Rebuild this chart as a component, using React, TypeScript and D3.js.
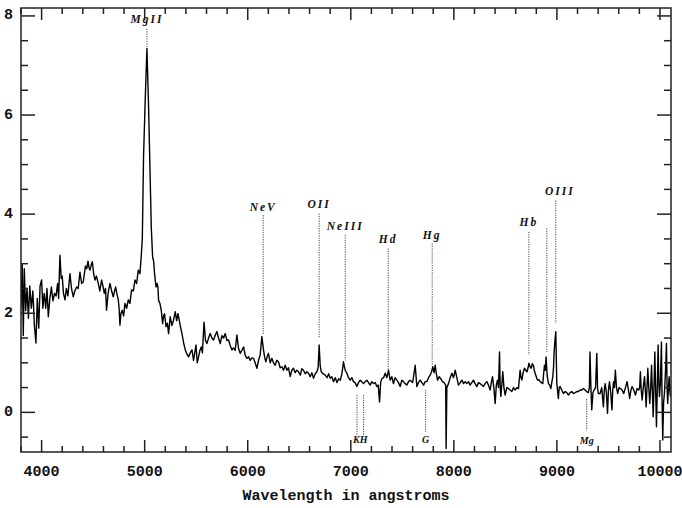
import React from "react";
import * as d3 from "d3";

const wavelengths = [
  3800, 3812, 3822, 3832, 3845, 3858, 3872, 3885, 3900, 3915, 3930, 3945, 3958, 3972, 3985,
  4000, 4012, 4025, 4040, 4052, 4065, 4080, 4095, 4110, 4125, 4140, 4155, 4165, 4178, 4190,
  4200, 4212, 4227, 4240, 4255, 4275, 4290, 4307, 4322, 4340, 4355, 4372, 4388, 4404, 4415,
  4425, 4438, 4450, 4460, 4470, 4482, 4492, 4505, 4518, 4532, 4550, 4565, 4582, 4595, 4608,
  4620, 4630, 4645, 4663, 4680, 4695, 4708, 4718, 4730, 4744, 4752, 4760, 4770, 4783, 4796,
  4809, 4825, 4841, 4857, 4873, 4890, 4906, 4922, 4938, 4954, 4965, 4977, 4989, 5006, 5022,
  5038, 5054, 5064, 5077, 5087, 5096, 5110, 5120, 5129, 5135, 5148, 5161, 5174, 5184, 5193,
  5207, 5220, 5232, 5248, 5264, 5280, 5297, 5310, 5323, 5339, 5350, 5362, 5378, 5394, 5410,
  5426, 5442, 5459, 5474, 5486, 5498, 5510, 5523, 5536, 5549, 5560, 5576, 5590, 5604, 5620,
  5636, 5652, 5668, 5684, 5701, 5717, 5733, 5750, 5766, 5782, 5798, 5814, 5830, 5847, 5862,
  5878, 5895, 5910, 5927, 5943, 5960, 5976, 5992, 6008, 6024, 6040, 6056, 6072, 6089, 6105,
  6121, 6137, 6153, 6165, 6176, 6188, 6201, 6218, 6234, 6250, 6266, 6282, 6298, 6315, 6331,
  6347, 6363, 6380, 6396, 6412, 6428, 6444, 6460, 6476, 6493, 6510, 6525, 6541, 6558, 6574,
  6590, 6606, 6622, 6638, 6655, 6671, 6683, 6693, 6703, 6713, 6730, 6752, 6770, 6785, 6800,
  6815, 6833, 6850, 6866, 6882, 6898, 6914, 6929, 6945, 6962, 6978, 6994, 7010, 7026, 7042,
  7059, 7075, 7091, 7107, 7123, 7140, 7156, 7172, 7188, 7204, 7220, 7237, 7253, 7266, 7279,
  7290, 7301, 7318, 7334, 7350, 7366, 7382, 7398, 7414, 7430, 7447, 7463, 7479, 7495, 7511,
  7527, 7544, 7560, 7576, 7600, 7625, 7641, 7657, 7673, 7690, 7706, 7722, 7738, 7754, 7770,
  7784, 7796, 7808, 7819, 7830, 7842, 7857, 7873, 7890, 7905, 7921, 7925, 7932, 7948, 7965,
  7981, 7997, 8013, 8029, 8045, 8062, 8078, 8095, 8110, 8126, 8142, 8158, 8174, 8190, 8206,
  8223, 8239, 8255, 8271, 8287, 8303, 8320, 8336, 8352, 8364, 8375, 8388, 8401, 8412, 8423,
  8433, 8443, 8450, 8456, 8465, 8475, 8486, 8498, 8514, 8530, 8546, 8563, 8579, 8595, 8611,
  8627, 8643, 8652, 8660, 8672, 8685, 8698, 8710, 8720, 8728, 8740, 8750, 8762, 8772, 8780,
  8789, 8800, 8811, 8825, 8837, 8850, 8863, 8872, 8879, 8887, 8895, 8905, 8918, 8930, 8941,
  8950, 8960, 8967, 8973, 8981, 8989, 8995, 8999, 9006, 9014, 9022, 9031, 9047, 9063, 9080,
  9096, 9112, 9128, 9144, 9160, 9177, 9193, 9209, 9225, 9241, 9257, 9273, 9289, 9305, 9315,
  9321, 9330, 9338, 9350, 9361, 9375, 9387, 9394, 9402, 9419, 9435, 9451, 9460, 9468, 9480,
  9491, 9500, 9510, 9522, 9534, 9542, 9550, 9558, 9567, 9578, 9590, 9603, 9616, 9632, 9648,
  9665, 9681, 9694, 9706, 9718, 9730, 9746, 9762, 9778, 9794, 9803, 9810, 9818, 9827, 9838,
  9850, 9858, 9866, 9874, 9882, 9891, 9901, 9910, 9918, 9926, 9934, 9942, 9950, 9958, 9966,
  9974, 9982, 9989, 9995, 10004, 10014, 10020, 10027, 10035, 10043, 10053, 10063, 10069, 10075, 10082,
  10089, 10095, 10102,
];

// Flux at each wavelength sample
const flux = [
  2.1, 3.0, 1.55, 2.9, 2.05, 2.5, 1.9, 2.55, 2.1, 2.45, 1.75, 1.4, 2.3, 1.7, 2.55,
  2.67, 2.1, 2.4, 2.1, 2.5, 1.93, 2.3, 2.53, 2.25, 2.4, 2.35, 2.6, 2.3, 3.17, 2.7,
  2.75, 2.4, 2.27, 2.5, 2.35, 2.8, 2.5, 2.33, 2.45, 2.53, 2.5, 2.83, 2.6, 2.63, 2.8,
  2.95, 2.9, 3.05, 2.92, 2.87, 2.98, 3.04, 2.8, 2.67, 2.75, 2.6, 2.45, 2.67, 2.55, 2.4,
  2.5, 2.06, 2.4, 2.6, 2.45, 2.33, 2.45, 2.53, 2.4, 2.27, 2.1, 1.76, 2.0, 2.06, 1.95,
  2.2, 2.1, 2.27, 2.2, 2.47, 2.45, 2.67, 2.6, 2.87, 2.8, 3.1, 3.5, 5.15, 6.36, 7.34,
  6.16, 4.68, 3.74, 3.14, 3.05, 2.8, 2.53, 2.6, 2.52, 2.26, 2.2, 2.06, 1.79, 1.95, 1.99,
  1.73, 1.8, 1.59, 1.93, 1.75, 1.86, 2.03, 1.85, 1.99, 1.82, 1.7, 1.59, 1.4, 1.26, 1.18,
  1.12, 1.2, 1.26, 1.05, 1.2, 1.36, 1.0, 1.12, 1.25, 1.32, 1.2, 1.82, 1.45, 1.39, 1.5,
  1.59, 1.5, 1.46, 1.55, 1.63, 1.5, 1.39, 1.55, 1.5, 1.59, 1.45, 1.46, 1.35, 1.26, 1.3,
  1.25, 1.56, 1.3, 1.19, 1.25, 1.32, 1.15, 1.09, 1.12, 1.05, 1.1, 1.09, 1.0, 0.89, 1.05,
  1.16, 1.53, 1.26, 1.1, 1.02, 1.12, 1.19, 1.0, 1.09, 1.0, 0.95, 1.05, 1.02, 0.9, 0.92,
  0.85, 0.95, 0.85, 0.9, 0.72, 0.85, 0.89, 0.8, 0.85, 0.82, 0.75, 0.88, 0.85, 0.78, 0.82,
  0.79, 0.72, 0.8, 0.69, 0.78, 0.82, 0.9, 1.36, 0.95, 0.82, 0.78, 0.75, 0.7, 0.78, 0.69,
  0.72, 0.62, 0.7, 0.6, 0.68, 0.65, 0.78, 1.02, 0.85, 0.79, 0.7, 0.65, 0.7, 0.62, 0.6,
  0.52, 0.6, 0.65, 0.62, 0.58, 0.62, 0.65, 0.6, 0.55, 0.62, 0.58, 0.6, 0.52, 0.55, 0.21,
  0.6, 0.68, 0.7, 0.79, 0.7, 0.85, 0.65, 0.72, 0.58, 0.7, 0.65, 0.6, 0.52, 0.65, 0.62,
  0.58, 0.55, 0.62, 0.65, 0.6, 0.95, 0.52, 0.6, 0.65, 0.6, 0.55, 0.62, 0.62, 0.7, 0.75,
  0.82, 0.92, 0.8, 0.95, 0.78, 0.65, 0.72, 0.68, 0.62, 0.6, 0.55, -0.73, 0.5, 0.58, 0.7,
  0.79, 0.7, 0.85, 0.7, 0.55, 0.6, 0.65, 0.58, 0.62, 0.58, 0.62, 0.55, 0.6, 0.65, 0.58,
  0.52, 0.6, 0.58, 0.55, 0.52, 0.58, 0.62, 0.55, 0.45, 0.6, 0.72, 0.5, 0.18, 0.55, 0.65,
  0.5, 1.22, 0.5, 0.32, 0.55, 0.82, 0.5, 0.35, 0.5, 0.48, 0.45, 0.42, 0.5, 0.45, 0.5,
  0.48, 0.85, 0.7, 0.65, 0.8, 0.89, 0.85, 0.82, 0.9, 0.99, 0.92, 0.89, 0.98, 0.95, 0.85,
  0.79, 0.72, 0.65, 0.66, 0.62, 0.6, 0.58, 0.8, 0.95, 0.85, 1.12, 0.75, 0.58, 0.55, 0.48,
  0.6, 0.72, 0.9, 1.22, 1.45, 1.63, 1.0, 0.58, 0.45, 0.28, 0.5, 0.52, 0.45, 0.38, 0.42,
  0.4, 0.35, 0.4, 0.42, 0.38, 0.4, 0.42, 0.42, 0.45, 0.45, 0.48, 0.45, 0.42, 0.4, 0.5,
  1.22, 0.5, 0.05, 0.4, 0.45, 0.5, 1.19, 0.5, 0.38, 0.38, 0.5, 0.11, 0.45, 0.58, 0.4,
  -0.02, 0.45, 0.62, 0.4, 0.05, 0.45, 0.62, 0.5, 0.85, 0.5, 0.38, 0.5, 0.48, 0.45, 0.38,
  0.5, 0.62, 0.45, 0.28, 0.45, 0.52, 0.45, 0.35, 0.48, 0.45, 0.5, 0.82, 0.45, 0.25, 0.5,
  0.72, 0.45, 0.11, 0.5, 0.89, 0.5, 0.18, 0.5, 0.95, 0.45, -0.09, 0.5, 1.22, 0.45, -0.29,
  0.5, 1.36, 0.6, 0.32, 0.6, 1.42, 0.3, -0.56, 0.2, 0.38, 0.8, 1.39, 0.5, 0.18, 0.5,
  0.72, 0.45, 0.32,
];

// Emission / absorption line markers
const lineNames = ["MgII", "NeV", "OII", "NeIII", "Hd", "Hg", "Hb", "OIII", "KH", "G", "Mg"];
const lineWavelengths = [[5022], [6150], [6693], [6946], [7363], [7790], [8728], [8902, 8989], [7060, 7124], [7726], [9289]];
const lineLabelFlux = [7.86, 4.06, 4.12, 3.68, 3.41, 3.49, 3.76, 4.38, -0.61, -0.61, -0.63];
const lineTopFlux = [[7.74], [3.98], [4.01], [3.58], [3.31], [3.41], [3.64], [3.71, 4.28], [0.35, 0.35], [0.45], [0.27]];
const lineEndFlux = [[7.34], [1.56], [1.5], [1.05], [0.85], [0.95], [1.16], [1.22, 1.8], [-0.46, -0.46], [-0.39], [-0.37]];
const lineBelow = [false, false, false, false, false, false, false, false, true, true, true];

const xMajorTicks = [4000, 5000, 6000, 7000, 8000, 9000, 10000];
const yMajorTicks = [0, 2, 4, 6, 8];
const xLabel = "Wavelength in angstroms";

export default function App() {
  const W = 682, H = 508;
  const left = 21, right = 671, top = 8, bottom = 452;
  const x = d3.scaleLinear().domain([3800, 10107]).range([left, right]);
  const y = d3.scaleLinear().domain([-0.8, 8.16]).range([bottom, top]);
  const xMinor = d3.range(3800, 10101, 200).filter((v) => v % 1000 !== 0);
  const yMinor = d3.range(-0.5, 8.01, 0.5).filter((v) => v % 2 !== 0);

  const pts = wavelengths.map((w, i) => [w, flux[i]] as [number, number]);
  const line = d3.line<[number, number]>().x((d) => x(d[0])).y((d) => y(d[1]));

  const monoFont = "'Liberation Mono', 'DejaVu Sans Mono', monospace";
  const serifFont = "'Liberation Serif', 'DejaVu Serif', serif";
  const axisColor = "#222";

  return (
    <svg width={W} height={H} style={{ position: "absolute", left: 0, top: 0, background: "#fff" }}>
      <rect x={0} y={0} width={W} height={H} fill="#fff" />
      <defs>
        <clipPath id="plotclip">
          <rect x={left} y={top} width={right - left} height={bottom - top} />
        </clipPath>
      </defs>
      {/* line markers */}
      <g stroke="#444" strokeWidth={1} strokeDasharray="1.2,1.2" fill="none">
        {lineNames.map((n, i) =>
          lineWavelengths[i].map((w, j) => (
            <line key={n + j} x1={x(w)} x2={x(w)} y1={y(lineTopFlux[i][j])} y2={y(lineEndFlux[i][j])} />
          ))
        )}
      </g>
      <g fontFamily={serifFont} fontStyle="italic" fontWeight="bold" fill="#111" textAnchor="middle">
        {lineNames.map((n, i) => {
          const cx = d3.mean(lineWavelengths[i]) as number;
          const below = lineBelow[i];
          const labelX = n === "OIII" ? x(8989) + 4 : x(cx);
          return (
            <text
              key={n}
              x={labelX}
              y={y(lineLabelFlux[i])}
              fontSize={below ? 10 : 11.5}
              letterSpacing={below ? 0 : 2}
            >
              {n}
            </text>
          );
        })}
      </g>
      {/* spectrum */}
      <path d={line(pts) || ""} fill="none" stroke="#000" strokeWidth={1.4} strokeLinejoin="round" clipPath="url(#plotclip)" />
      {/* frame */}
      <rect x={left} y={top} width={right - left} height={bottom - top} fill="none" stroke={axisColor} strokeWidth={1.5} />
      {/* ticks */}
      <g stroke={axisColor} strokeWidth={1.5}>
        {xMajorTicks.map((t) => (
          <g key={"xM" + t}>
            <line x1={x(t)} x2={x(t)} y1={bottom} y2={bottom - 12} />
            <line x1={x(t)} x2={x(t)} y1={top} y2={top + 12} />
          </g>
        ))}
        {xMinor.map((t) => (
          <g key={"xm" + t}>
            <line x1={x(t)} x2={x(t)} y1={bottom} y2={bottom - 6} />
            <line x1={x(t)} x2={x(t)} y1={top} y2={top + 6} />
          </g>
        ))}
        {yMajorTicks.map((t) => (
          <g key={"yM" + t}>
            <line x1={left} x2={left + 14} y1={y(t)} y2={y(t)} />
            <line x1={right} x2={right - 14} y1={y(t)} y2={y(t)} />
          </g>
        ))}
        {yMinor.map((t) => (
          <g key={"ym" + t}>
            <line x1={left} x2={left + 7} y1={y(t)} y2={y(t)} />
            <line x1={right} x2={right - 7} y1={y(t)} y2={y(t)} />
          </g>
        ))}
      </g>
      {/* tick labels */}
      <g fontFamily={monoFont} fontWeight="bold" fontSize={15} fill="#111">
        {xMajorTicks.map((t) => (
          <text key={"xl" + t} x={x(t)} y={476} textAnchor="middle">
            {t}
          </text>
        ))}
        {yMajorTicks.map((t) => (
          <text key={"yl" + t} x={13} y={y(t)} textAnchor="end" dominantBaseline="central">
            {t}
          </text>
        ))}
        <text x={(left + right) / 2} y={500} textAnchor="middle">
          {xLabel}
        </text>
      </g>
    </svg>
  );
}
